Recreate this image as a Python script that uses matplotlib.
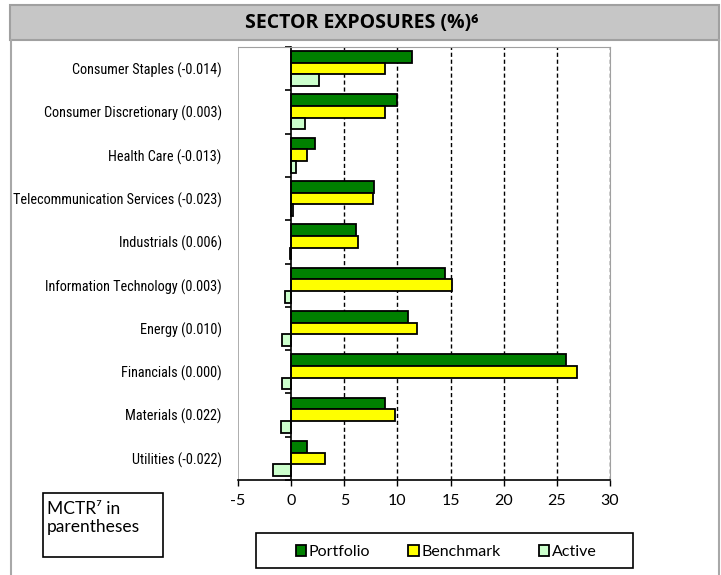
import matplotlib

matplotlib.use("Agg")
import matplotlib.pyplot as plt
import numpy as np
from matplotlib import font_manager
from matplotlib.patches import Rectangle

# data (top to bottom)
sectors = [
    "Consumer Staples (-0.014)",
    "Consumer Discretionary (0.003)",
    "Health Care (-0.013)",
    "Telecommunication Services (-0.023)",
    "Industrials (0.006)",
    "Information Technology (0.003)",
    "Energy (0.010)",
    "Financials (0.000)",
    "Materials (0.022)",
    "Utilities (-0.022)",
]
portfolio = [11.4, 10.0, 2.2, 7.8, 6.1, 14.5, 11.0, 25.9, 8.8, 1.5]
benchmark = [8.8, 8.8, 1.5, 7.7, 6.3, 15.1, 11.8, 26.9, 9.8, 3.2]
active = [2.6, 1.3, 0.5, 0.15, -0.15, -0.55, -0.85, -0.85, -1.0, -1.7]
series_names = ["Portfolio", "Benchmark", "Active"]
x_ticks = [-5, 0, 5, 10, 15, 20, 25, 30]

W, H = 721, 575


def fx(px):
    return px / W


def fy(py):
    return 1 - py / H


def pick_font(candidates):
    names = {f.name for f in font_manager.fontManager.ttflist}
    for name in candidates:
        if name in names:
            return name
    return "DejaVu Sans"


narrow = pick_font(["Liberation Sans Narrow", "Roboto Condensed",
                    "Open Sans Condensed", "Noto Sans", "DejaVu Sans"])
label_font = [narrow, "DejaVu Sans"]
tick_font = ["Lato", "DejaVu Sans"]

fig = plt.figure(figsize=(W / 100, H / 100), dpi=100)

# frame and header band
fig.add_artist(plt.Line2D([fx(11), fx(11)], [fy(40), 0], color="#a8a8a8", lw=1.5))
fig.add_artist(plt.Line2D([fx(719), fx(719)], [fy(40), 0], color="#a8a8a8", lw=1.5))
fig.add_artist(Rectangle((fx(10), fy(40)), fx(709), 35 / H, facecolor="#c6c6c6",
                         edgecolor="#a0a0a0", lw=1.5))
fig.text(fx(362), fy(23), "SECTOR EXPOSURES (%)⁶", ha="center", va="center",
         fontsize=14, fontweight="bold", family=["Open Sans", "DejaVu Sans"])

ax = fig.add_axes([fx(238), fy(480), fx(610 - 238), (480 - 47) / H])

n = len(sectors)
y = np.arange(n)
bar_h = 0.27
colors = ["#008000", "#ffff00", "#ccffcc"]
for i, (vals, name) in enumerate(zip([portfolio, benchmark, active], series_names)):
    ax.barh(y + (i - 1) * bar_h, vals, height=bar_h, color=colors[i],
            edgecolor="black", lw=1.3, label=name)

ax.set_xlim(-5, 30)
ax.set_ylim(n - 0.5, -0.5)
ax.set_xticks(x_ticks)
ax.set_xticklabels([str(t) for t in x_ticks], family=tick_font, fontsize=11.5)
ax.tick_params(axis="x", direction="out", length=4, width=1, pad=6)

# y axis sits on zero, labels pushed out to the plot edge
ax.spines["left"].set_position(("data", 0))
ax.spines["left"].set_color("black")
ax.spines["left"].set_linewidth(1.2)
ax.set_yticks(y)
ylabels = ax.set_yticklabels(sectors, family=label_font, fontstretch="condensed",
                             fontsize=10)
ax.set_yticks(np.arange(n + 1) - 0.5, minor=True)
ax.tick_params(axis="y", which="major", length=0, pad=50)
ax.tick_params(axis="y", which="minor", direction="out", length=4, width=1.2)
ax.spines["bottom"].set_color("black")
ax.spines["bottom"].set_linewidth(1.2)
for side in ["top", "right"]:
    ax.spines[side].set_color("#a0a0a0")
ax.axvline(-5, color="#a0a0a0", lw=1.2, zorder=0)

ax.grid(axis="x", color="black", linestyle=(0, (3, 2)), lw=1)
ax.set_axisbelow(True)
ax.xaxis.get_gridlines()[0].set_visible(False)
ax.xaxis.get_gridlines()[1].set_visible(False)

# shrink the category labels until the longest one fits the left margin
fig.canvas.draw()
renderer = fig.canvas.get_renderer()
widest = max(t.get_window_extent(renderer).width for t in ylabels)
size = min(10.5, 10 * 208 / widest)
for t in ylabels:
    t.set_fontsize(size)

# legend: own box, entries centred inside it
fig.add_artist(Rectangle((fx(256), fy(568)), fx(633 - 256), 35 / H, facecolor="white",
                         edgecolor="black", lw=1.2))
handles, labels = ax.get_legend_handles_labels()
leg = fig.legend(handles, labels, loc="center", ncol=3,
                 bbox_to_anchor=(fx(446), fy(552)), frameon=False,
                 handlelength=0.65, handleheight=0.65, handletextpad=0.15,
                 columnspacing=2.4, prop={"family": tick_font, "size": 11.5})

# MCTR note box
fig.add_artist(Rectangle((fx(43), fy(557)), fx(120), 64 / H, facecolor="white",
                         edgecolor="black", lw=1.2))
fig.text(fx(47), fy(501), "MCTR⁷ in\nparentheses", ha="left", va="top",
         fontsize=12.5, family=tick_font, linespacing=1.15)

fig.savefig("out.png", dpi=100)
